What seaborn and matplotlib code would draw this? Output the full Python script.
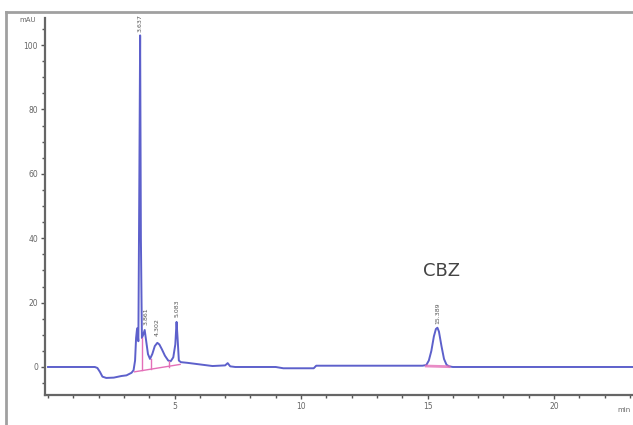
import matplotlib
matplotlib.use("Agg")
import matplotlib.pyplot as plt
import seaborn as sns
import numpy as np
import pandas as pd
from matplotlib.lines import Line2D
from matplotlib.ticker import MultipleLocator

# ---- data ----
time_min = [0.0, 1.85, 1.95, 2.05, 2.15, 2.3, 2.6, 2.9, 3.1, 3.3, 3.38, 3.44, 3.48, 3.52,
            3.57, 3.61, 3.64, 3.67, 3.71, 3.76, 3.82, 3.88, 3.95, 4.03, 4.12, 4.22, 4.32,
            4.40, 4.50, 4.62, 4.75, 4.85, 4.95, 5.03, 5.08, 5.12, 5.17, 5.25, 5.5, 6.0,
            6.5, 7.0, 7.1, 7.2, 7.4, 9.0, 9.3, 10.5, 10.6, 14.8, 14.95, 15.05, 15.15,
            15.25, 15.33, 15.39, 15.45, 15.55, 15.65, 15.75, 15.85, 16.0, 23.3]
absorb_mau = [0.0, 0.0, -0.3, -1.5, -3.0, -3.4, -3.3, -2.8, -2.6, -1.8, -1.0, 2.0, 9.0, 12.0,
              8.0, 60.0, 103.0, 40.0, 9.0, 10.0, 11.5, 8.0, 4.0, 2.5, 4.0, 6.5, 7.5,
              7.0, 5.5, 3.5, 2.0, 1.8, 3.0, 7.0, 14.0, 9.0, 2.0, 1.5, 1.3, 0.8,
              0.3, 0.5, 1.2, 0.2, 0.0, 0.0, -0.4, -0.4, 0.4, 0.4, 0.6, 2.0, 5.0,
              9.5, 11.8, 12.2, 11.0, 6.5, 2.5, 0.7, 0.2, 0.0, 0.0]

# integration baselines (pink)
base1_t = [3.42, 5.22]
base1_v = [-1.5, 0.8]
base2_t = [14.95, 15.85]
base2_v = [0.3, 0.1]
drop_t = [3.72, 4.05, 4.80]
drop_bottom = [-1.0, -0.6, 0.0]
drop_top = [9.0, 2.6, 2.0]

# peak retention-time labels
peak_label_t = [3.64, 3.86, 4.30, 5.08, 15.39]
peak_label_y = [104.0, 13.0, 9.5, 15.5, 13.5]
peak_label_txt = ["3.637", "3.861", "4.302", "5.083", "15.389"]

y_ticks = [0, 20, 40, 60, 80, 100]
x_ticks = [5, 10, 15, 20]

df = pd.DataFrame({"time": time_min, "mAU": absorb_mau})

fig = plt.figure(figsize=(6.33, 4.25), dpi=100)
ax = fig.add_axes([45 / 633, 30 / 425, 1 - 45 / 633, (395 - 18) / 425])

sns.lineplot(data=df, x="time", y="mAU", ax=ax, sort=False, estimator=None,
             color="#4b4fc6", linewidth=1.4, alpha=0.9)

pink = "#e46fb8"
ax.plot(base1_t, base1_v, color=pink, lw=1.0)
ax.plot(base2_t, base2_v, color=pink, lw=2.0, alpha=0.8)
for t, b, tp in zip(drop_t, drop_bottom, drop_top):
    ax.plot([t, t], [b, tp], color=pink, lw=1.0)

for t, y, s in zip(peak_label_t, peak_label_y, peak_label_txt):
    ax.text(t, y, s, rotation=90, fontsize=4.5, color="#555555",
            ha="center", va="bottom")

ax.text(15.55, 27, "CBZ", fontsize=13, color="#444444", ha="center", va="bottom")

ax.set_xlim(-0.12, 23.12)
ax.set_ylim(-8.7, 108.4)
ax.set_xticks(x_ticks)
ax.set_yticks(y_ticks)
ax.xaxis.set_minor_locator(MultipleLocator(1))
ax.yaxis.set_minor_locator(MultipleLocator(5))
ax.tick_params(axis="both", which="major", labelsize=5.5, labelcolor="#666666",
               color="#555555", length=3, width=1, direction="out", pad=2)
ax.tick_params(axis="both", which="minor", color="#555555", length=2, width=1,
               direction="out")
ax.set_xlabel("")
ax.set_ylabel("")
for side in ["top", "right"]:
    ax.spines[side].set_visible(False)
for side in ["left", "bottom"]:
    ax.spines[side].set_color("#666666")
    ax.spines[side].set_linewidth(1.6)

fig.text(28 / 633, 1 - 20 / 425, "mAU", fontsize=5, color="#666666",
         ha="center", va="center")
fig.text(631 / 633, 1 - 410 / 425, "min", fontsize=5, color="#666666",
         ha="right", va="center")

# outer frame of the original screenshot
fig.add_artist(Line2D([6 / 633, 1], [1 - 12 / 425, 1 - 12 / 425],
                      transform=fig.transFigure, color="#a0a0a0", lw=2))
fig.add_artist(Line2D([6 / 633, 6 / 633], [0, 1 - 12 / 425],
                      transform=fig.transFigure, color="#a0a0a0", lw=2))

fig.savefig("out.png", dpi=100)
